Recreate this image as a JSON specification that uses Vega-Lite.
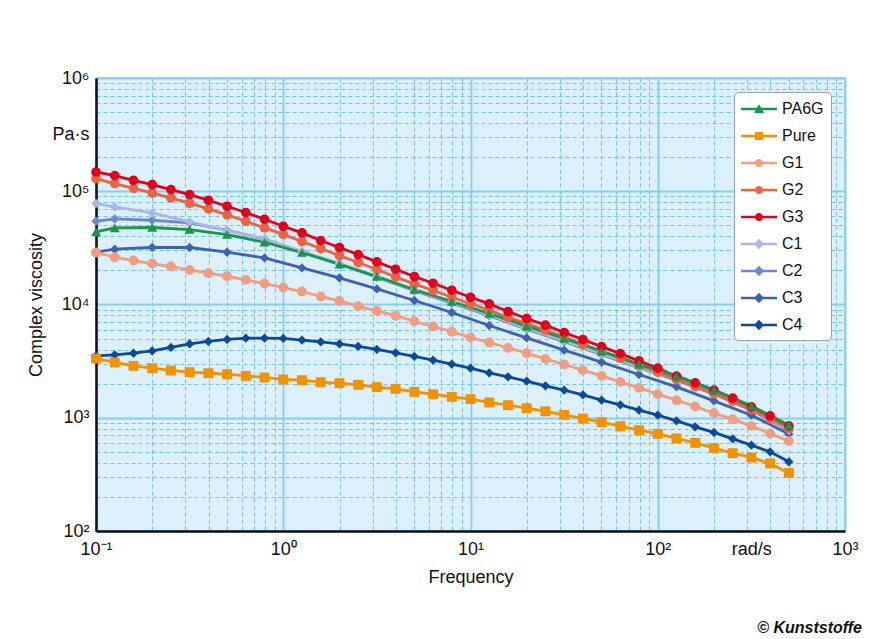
{
  "$schema": "https://vega.github.io/schema/vega-lite/v6.json",
  "width": 749,
  "height": 453,
  "autosize": {"type": "none"},
  "padding": {"left": 96, "top": 78, "right": 39, "bottom": 108},
  "background": "white",
  "config": {
    "font": "Liberation Sans Narrow, Liberation Sans, sans-serif",
    "view": {"fill": "#dcf0fc", "stroke": "#8ccff0", "strokeWidth": 1.5},
    "axis": {
      "labelFont": "Liberation Sans Narrow, Liberation Sans, sans-serif",
      "titleFont": "Liberation Sans Narrow, Liberation Sans, sans-serif",
      "labelColor": "#111111",
      "titleColor": "#111111",
      "labelFontSize": 18,
      "titleFontSize": 18,
      "titleFontWeight": "normal",
      "ticks": false,
      "domainColor": "#111111",
      "domainWidth": 2.5
    },
    "legend": {
      "labelFont": "Liberation Sans Narrow, Liberation Sans, sans-serif",
      "labelFontSize": 16,
      "labelColor": "#111111",
      "orient": "top-right",
      "offset": 14,
      "padding": 7,
      "fillColor": "white",
      "strokeColor": "#9aa4ad",
      "cornerRadius": 4,
      "symbolSize": 400,
      "symbolStrokeWidth": 0,
      "symbolOpacity": 1,
      "labelOffset": 21,
      "rowPadding": 9
    }
  },
  "title": {
    "text": "© Kunststoffe",
    "orient": "bottom",
    "anchor": "end",
    "frame": "group",
    "font": "Liberation Sans Narrow, Liberation Sans, sans-serif",
    "fontSize": 16,
    "fontStyle": "italic",
    "fontWeight": "bold",
    "color": "#111111",
    "offset": 34,
    "dx": 17
  },
  "data": {
    "values": [
      {"series": "C4", "freq": 0.1, "visc": 3519},
      {"series": "C4", "freq": 0.1259, "visc": 3591},
      {"series": "C4", "freq": 0.1585, "visc": 3717},
      {"series": "C4", "freq": 0.1995, "visc": 3895},
      {"series": "C4", "freq": 0.2512, "visc": 4174},
      {"series": "C4", "freq": 0.3162, "visc": 4490},
      {"series": "C4", "freq": 0.3981, "visc": 4715},
      {"series": "C4", "freq": 0.5012, "visc": 4911},
      {"series": "C4", "freq": 0.631, "visc": 5042},
      {"series": "C4", "freq": 0.7943, "visc": 5042},
      {"series": "C4", "freq": 1, "visc": 5012},
      {"series": "C4", "freq": 1.259, "visc": 4840},
      {"series": "C4", "freq": 1.585, "visc": 4676},
      {"series": "C4", "freq": 1.995, "visc": 4490},
      {"series": "C4", "freq": 2.512, "visc": 4259},
      {"series": "C4", "freq": 3.162, "visc": 4008},
      {"series": "C4", "freq": 3.981, "visc": 3740},
      {"series": "C4", "freq": 5.012, "visc": 3476},
      {"series": "C4", "freq": 6.31, "visc": 3225},
      {"series": "C4", "freq": 7.943, "visc": 2973},
      {"series": "C4", "freq": 10, "visc": 2740},
      {"series": "C4", "freq": 12.59, "visc": 2490},
      {"series": "C4", "freq": 15.85, "visc": 2296},
      {"series": "C4", "freq": 19.95, "visc": 2104},
      {"series": "C4", "freq": 25.12, "visc": 1912},
      {"series": "C4", "freq": 31.62, "visc": 1752},
      {"series": "C4", "freq": 39.81, "visc": 1593},
      {"series": "C4", "freq": 50.12, "visc": 1430},
      {"series": "C4", "freq": 63.1, "visc": 1300},
      {"series": "C4", "freq": 79.43, "visc": 1167},
      {"series": "C4", "freq": 100, "visc": 1054},
      {"series": "C4", "freq": 125.9, "visc": 939},
      {"series": "C4", "freq": 158.5, "visc": 831},
      {"series": "C4", "freq": 199.5, "visc": 742},
      {"series": "C4", "freq": 251.2, "visc": 651},
      {"series": "C4", "freq": 316.2, "visc": 573},
      {"series": "C4", "freq": 398.1, "visc": 500},
      {"series": "C4", "freq": 501.2, "visc": 408},

      {"series": "C3", "freq": 0.1, "visc": 28940},
      {"series": "C3", "freq": 0.1259, "visc": 30770},
      {"series": "C3", "freq": 0.1995, "visc": 31850},
      {"series": "C3", "freq": 0.3162, "visc": 31850},
      {"series": "C3", "freq": 0.5012, "visc": 28940},
      {"series": "C3", "freq": 0.7943, "visc": 25780},
      {"series": "C3", "freq": 1.259, "visc": 21040},
      {"series": "C3", "freq": 1.995, "visc": 17170},
      {"series": "C3", "freq": 3.162, "visc": 13730},
      {"series": "C3", "freq": 5.012, "visc": 10850},
      {"series": "C3", "freq": 7.943, "visc": 8500},
      {"series": "C3", "freq": 12.59, "visc": 6527},
      {"series": "C3", "freq": 19.95, "visc": 5072},
      {"series": "C3", "freq": 31.62, "visc": 3952},
      {"series": "C3", "freq": 50.12, "visc": 3096},
      {"series": "C3", "freq": 79.43, "visc": 2411},
      {"series": "C3", "freq": 125.9, "visc": 1874},
      {"series": "C3", "freq": 199.5, "visc": 1410},
      {"series": "C3", "freq": 316.2, "visc": 1054},
      {"series": "C3", "freq": 501.2, "visc": 717},

      {"series": "C2", "freq": 0.1, "visc": 54350},
      {"series": "C2", "freq": 0.1259, "visc": 56950},
      {"series": "C2", "freq": 0.1995, "visc": 55460},
      {"series": "C2", "freq": 0.3162, "visc": 52510},
      {"series": "C2", "freq": 0.5012, "visc": 45270},
      {"series": "C2", "freq": 0.7943, "visc": 37700},
      {"series": "C2", "freq": 1.259, "visc": 28940},
      {"series": "C2", "freq": 1.995, "visc": 22680},
      {"series": "C2", "freq": 3.162, "visc": 17420},
      {"series": "C2", "freq": 5.012, "visc": 13240},
      {"series": "C2", "freq": 7.943, "visc": 10270},
      {"series": "C2", "freq": 12.59, "visc": 7965},
      {"series": "C2", "freq": 19.95, "visc": 6053},
      {"series": "C2", "freq": 31.62, "visc": 4695},
      {"series": "C2", "freq": 50.12, "visc": 3605},
      {"series": "C2", "freq": 79.43, "visc": 2768},
      {"series": "C2", "freq": 125.9, "visc": 2147},
      {"series": "C2", "freq": 199.5, "visc": 1616},
      {"series": "C2", "freq": 316.2, "visc": 1167},
      {"series": "C2", "freq": 501.2, "visc": 769},

      {"series": "C1", "freq": 0.1, "visc": 77890},
      {"series": "C1", "freq": 0.1259, "visc": 72680},
      {"series": "C1", "freq": 0.1995, "visc": 64330},
      {"series": "C1", "freq": 0.3162, "visc": 53580},
      {"series": "C1", "freq": 0.5012, "visc": 44990},
      {"series": "C1", "freq": 0.7943, "visc": 37930},
      {"series": "C1", "freq": 1.259, "visc": 29540},
      {"series": "C1", "freq": 1.995, "visc": 23150},
      {"series": "C1", "freq": 3.162, "visc": 17770},
      {"series": "C1", "freq": 5.012, "visc": 13510},
      {"series": "C1", "freq": 7.943, "visc": 10480},
      {"series": "C1", "freq": 12.59, "visc": 8128},
      {"series": "C1", "freq": 19.95, "visc": 6177},
      {"series": "C1", "freq": 31.62, "visc": 4791},
      {"series": "C1", "freq": 50.12, "visc": 3679},
      {"series": "C1", "freq": 79.43, "visc": 2825},
      {"series": "C1", "freq": 125.9, "visc": 2191},
      {"series": "C1", "freq": 199.5, "visc": 1649},
      {"series": "C1", "freq": 316.2, "visc": 1191},
      {"series": "C1", "freq": 501.2, "visc": 785},

      {"series": "Pure", "freq": 0.1, "visc": 3337},
      {"series": "Pure", "freq": 0.1259, "visc": 3077},
      {"series": "Pure", "freq": 0.1585, "visc": 2872},
      {"series": "Pure", "freq": 0.1995, "visc": 2740},
      {"series": "Pure", "freq": 0.2512, "visc": 2615},
      {"series": "Pure", "freq": 0.3162, "visc": 2526},
      {"series": "Pure", "freq": 0.3981, "visc": 2475},
      {"series": "Pure", "freq": 0.5012, "visc": 2425},
      {"series": "Pure", "freq": 0.631, "visc": 2343},
      {"series": "Pure", "freq": 0.7943, "visc": 2268},
      {"series": "Pure", "freq": 1, "visc": 2178},
      {"series": "Pure", "freq": 1.259, "visc": 2147},
      {"series": "Pure", "freq": 1.585, "visc": 2062},
      {"series": "Pure", "freq": 1.995, "visc": 2021},
      {"series": "Pure", "freq": 2.512, "visc": 1952},
      {"series": "Pure", "freq": 3.162, "visc": 1863},
      {"series": "Pure", "freq": 3.981, "visc": 1800},
      {"series": "Pure", "freq": 5.012, "visc": 1693},
      {"series": "Pure", "freq": 6.31, "visc": 1616},
      {"series": "Pure", "freq": 7.943, "visc": 1529},
      {"series": "Pure", "freq": 10, "visc": 1460},
      {"series": "Pure", "freq": 12.59, "visc": 1365},
      {"series": "Pure", "freq": 15.85, "visc": 1292},
      {"series": "Pure", "freq": 19.95, "visc": 1215},
      {"series": "Pure", "freq": 25.12, "visc": 1140},
      {"series": "Pure", "freq": 31.62, "visc": 1060},
      {"series": "Pure", "freq": 39.81, "visc": 985},
      {"series": "Pure", "freq": 50.12, "visc": 915},
      {"series": "Pure", "freq": 63.1, "visc": 843},
      {"series": "Pure", "freq": 79.43, "visc": 777},
      {"series": "Pure", "freq": 100, "visc": 721},
      {"series": "Pure", "freq": 125.9, "visc": 657},
      {"series": "Pure", "freq": 158.5, "visc": 600},
      {"series": "Pure", "freq": 199.5, "visc": 539},
      {"series": "Pure", "freq": 251.2, "visc": 487},
      {"series": "Pure", "freq": 316.2, "visc": 446},
      {"series": "Pure", "freq": 398.1, "visc": 395},
      {"series": "Pure", "freq": 501.2, "visc": 326},

      {"series": "G1", "freq": 0.1, "visc": 28770},
      {"series": "G1", "freq": 0.1259, "visc": 26150},
      {"series": "G1", "freq": 0.1585, "visc": 24460},
      {"series": "G1", "freq": 0.1995, "visc": 23010},
      {"series": "G1", "freq": 0.2512, "visc": 21650},
      {"series": "G1", "freq": 0.3162, "visc": 20200},
      {"series": "G1", "freq": 0.3981, "visc": 18890},
      {"series": "G1", "freq": 0.5012, "visc": 17770},
      {"series": "G1", "freq": 0.631, "visc": 16490},
      {"series": "G1", "freq": 0.7943, "visc": 15320},
      {"series": "G1", "freq": 1, "visc": 14130},
      {"series": "G1", "freq": 1.259, "visc": 13020},
      {"series": "G1", "freq": 1.585, "visc": 11770},
      {"series": "G1", "freq": 1.995, "visc": 10760},
      {"series": "G1", "freq": 2.512, "visc": 9660},
      {"series": "G1", "freq": 3.162, "visc": 8780},
      {"series": "G1", "freq": 3.981, "visc": 7965},
      {"series": "G1", "freq": 5.012, "visc": 7121},
      {"series": "G1", "freq": 6.31, "visc": 6393},
      {"series": "G1", "freq": 7.943, "visc": 5754},
      {"series": "G1", "freq": 10, "visc": 5123},
      {"series": "G1", "freq": 12.59, "visc": 4619},
      {"series": "G1", "freq": 15.85, "visc": 4140},
      {"series": "G1", "freq": 19.95, "visc": 3717},
      {"series": "G1", "freq": 25.12, "visc": 3311},
      {"series": "G1", "freq": 31.62, "visc": 2955},
      {"series": "G1", "freq": 39.81, "visc": 2632},
      {"series": "G1", "freq": 50.12, "visc": 2343},
      {"series": "G1", "freq": 63.1, "visc": 2075},
      {"series": "G1", "freq": 79.43, "visc": 1836},
      {"series": "G1", "freq": 100, "visc": 1616},
      {"series": "G1", "freq": 125.9, "visc": 1430},
      {"series": "G1", "freq": 158.5, "visc": 1258},
      {"series": "G1", "freq": 199.5, "visc": 1098},
      {"series": "G1", "freq": 251.2, "visc": 972},
      {"series": "G1", "freq": 316.2, "visc": 843},
      {"series": "G1", "freq": 398.1, "visc": 727},
      {"series": "G1", "freq": 501.2, "visc": 622},

      {"series": "G2", "freq": 0.1, "visc": 129500},
      {"series": "G2", "freq": 0.1259, "visc": 116900},
      {"series": "G2", "freq": 0.1585, "visc": 106300},
      {"series": "G2", "freq": 0.1995, "visc": 96600},
      {"series": "G2", "freq": 0.2512, "visc": 87300},
      {"series": "G2", "freq": 0.3162, "visc": 78400},
      {"series": "G2", "freq": 0.3981, "visc": 69800},
      {"series": "G2", "freq": 0.5012, "visc": 61780},
      {"series": "G2", "freq": 0.631, "visc": 54350},
      {"series": "G2", "freq": 0.7943, "visc": 47450},
      {"series": "G2", "freq": 1, "visc": 41560},
      {"series": "G2", "freq": 1.259, "visc": 35980},
      {"series": "G2", "freq": 1.585, "visc": 31210},
      {"series": "G2", "freq": 1.995, "visc": 27070},
      {"series": "G2", "freq": 2.512, "visc": 23480},
      {"series": "G2", "freq": 3.162, "visc": 20360},
      {"series": "G2", "freq": 3.981, "visc": 17520},
      {"series": "G2", "freq": 5.012, "visc": 15200},
      {"series": "G2", "freq": 6.31, "visc": 13290},
      {"series": "G2", "freq": 7.943, "visc": 11600},
      {"series": "G2", "freq": 10, "visc": 10160},
      {"series": "G2", "freq": 12.59, "visc": 8906},
      {"series": "G2", "freq": 15.85, "visc": 7724},
      {"series": "G2", "freq": 19.95, "visc": 6770},
      {"series": "G2", "freq": 25.12, "visc": 5933},
      {"series": "G2", "freq": 31.62, "visc": 5145},
      {"series": "G2", "freq": 39.81, "visc": 4462},
      {"series": "G2", "freq": 50.12, "visc": 3870},
      {"series": "G2", "freq": 63.1, "visc": 3358},
      {"series": "G2", "freq": 79.43, "visc": 2912},
      {"series": "G2", "freq": 100, "visc": 2526},
      {"series": "G2", "freq": 125.9, "visc": 2169},
      {"series": "G2", "freq": 158.5, "visc": 1882},
      {"series": "G2", "freq": 199.5, "visc": 1632},
      {"series": "G2", "freq": 251.2, "visc": 1401},
      {"series": "G2", "freq": 316.2, "visc": 1179},
      {"series": "G2", "freq": 398.1, "visc": 982},
      {"series": "G2", "freq": 501.2, "visc": 809},

      {"series": "G3", "freq": 0.1, "visc": 148000},
      {"series": "G3", "freq": 0.1259, "visc": 137600},
      {"series": "G3", "freq": 0.1585, "visc": 125000},
      {"series": "G3", "freq": 0.1995, "visc": 114600},
      {"series": "G3", "freq": 0.2512, "visc": 103500},
      {"series": "G3", "freq": 0.3162, "visc": 93500},
      {"series": "G3", "freq": 0.3981, "visc": 83300},
      {"series": "G3", "freq": 0.5012, "visc": 73700},
      {"series": "G3", "freq": 0.631, "visc": 64900},
      {"series": "G3", "freq": 0.7943, "visc": 56600},
      {"series": "G3", "freq": 1, "visc": 49100},
      {"series": "G3", "freq": 1.259, "visc": 42900},
      {"series": "G3", "freq": 1.585, "visc": 36700},
      {"series": "G3", "freq": 1.995, "visc": 31850},
      {"series": "G3", "freq": 2.512, "visc": 27620},
      {"series": "G3", "freq": 3.162, "visc": 23770},
      {"series": "G3", "freq": 3.981, "visc": 20490},
      {"series": "G3", "freq": 5.012, "visc": 17670},
      {"series": "G3", "freq": 6.31, "visc": 15420},
      {"series": "G3", "freq": 7.943, "visc": 13370},
      {"series": "G3", "freq": 10, "visc": 11600},
      {"series": "G3", "freq": 12.59, "visc": 10120},
      {"series": "G3", "freq": 15.85, "visc": 8675},
      {"series": "G3", "freq": 19.95, "visc": 7523},
      {"series": "G3", "freq": 25.12, "visc": 6567},
      {"series": "G3", "freq": 31.62, "visc": 5661},
      {"series": "G3", "freq": 39.81, "visc": 4911},
      {"series": "G3", "freq": 50.12, "visc": 4242},
      {"series": "G3", "freq": 63.1, "visc": 3679},
      {"series": "G3", "freq": 79.43, "visc": 3179},
      {"series": "G3", "freq": 100, "visc": 2740},
      {"series": "G3", "freq": 125.9, "visc": 2329},
      {"series": "G3", "freq": 158.5, "visc": 2033},
      {"series": "G3", "freq": 199.5, "visc": 1752},
      {"series": "G3", "freq": 251.2, "visc": 1489},
      {"series": "G3", "freq": 316.2, "visc": 1248},
      {"series": "G3", "freq": 398.1, "visc": 1039},
      {"series": "G3", "freq": 501.2, "visc": 848},

      {"series": "PA6G", "freq": 0.1, "visc": 43720},
      {"series": "PA6G", "freq": 0.1259, "visc": 47450},
      {"series": "PA6G", "freq": 0.1995, "visc": 47830},
      {"series": "PA6G", "freq": 0.3162, "visc": 45920},
      {"series": "PA6G", "freq": 0.5012, "visc": 41480},
      {"series": "PA6G", "freq": 0.7943, "visc": 35460},
      {"series": "PA6G", "freq": 1.259, "visc": 28770},
      {"series": "PA6G", "freq": 1.995, "visc": 22680},
      {"series": "PA6G", "freq": 3.162, "visc": 17670},
      {"series": "PA6G", "freq": 5.012, "visc": 13560},
      {"series": "PA6G", "freq": 7.943, "visc": 10630},
      {"series": "PA6G", "freq": 12.59, "visc": 8330},
      {"series": "PA6G", "freq": 19.95, "visc": 6433},
      {"series": "PA6G", "freq": 31.62, "visc": 5012},
      {"series": "PA6G", "freq": 50.12, "visc": 3870},
      {"series": "PA6G", "freq": 79.43, "visc": 2973},
      {"series": "PA6G", "freq": 125.9, "visc": 2329},
      {"series": "PA6G", "freq": 199.5, "visc": 1752},
      {"series": "PA6G", "freq": 316.2, "visc": 1274},
      {"series": "PA6G", "freq": 501.2, "visc": 860}
    ]
  },
  "encoding": {
    "x": {
      "field": "freq",
      "type": "quantitative",
      "title": "Frequency",
      "scale": {"type": "log", "domain": [0.1, 1000], "nice": false},
      "axis": {
        "values": [0.1, 0.2, 0.3, 0.4, 0.5, 0.6, 0.7, 0.8, 0.9, 1, 2, 3, 4, 5, 6, 7, 8, 9, 10, 20, 30, 40, 50, 60, 70, 80, 90, 100, 200, 300, 400, 500, 600, 700, 800, 900, 1000, 316.2],
        "labelExpr": "datum.value == 0.1 ? '10⁻¹' : datum.value == 1 ? '10⁰' : datum.value == 10 ? '10¹' : datum.value == 100 ? '10²' : datum.value == 1000 ? '10³' : datum.value == 316.2 ? 'rad/s' : ''",
        "labelOverlap": false,
        "labelFlush": false,
        "labelPadding": 9,
        "titlePadding": 10,
        "grid": true,
        "gridColor": {"condition": {"test": "indexof([0.1, 1, 10, 100, 1000], datum.value) >= 0", "value": "#86cdf0"}, "value": "#6fc3ef"},
        "gridDash": {"condition": {"test": "indexof([0.1, 1, 10, 100, 1000], datum.value) >= 0", "value": []}, "value": [4, 3]},
        "gridWidth": {"condition": {"test": "indexof([0.1, 1, 10, 100, 1000], datum.value) >= 0", "value": 1.8}, "value": 1},
        "gridOpacity": {"condition": {"test": "datum.value == 316.2", "value": 0}, "value": 1}
      }
    },
    "y": {
      "field": "visc",
      "type": "quantitative",
      "title": "Complex viscosity",
      "scale": {"type": "log", "domain": [100, 1000000], "nice": false},
      "axis": {
        "values": [100, 200, 300, 400, 500, 600, 700, 800, 900, 1000, 2000, 3000, 4000, 5000, 6000, 7000, 8000, 9000, 10000, 20000, 30000, 40000, 50000, 60000, 70000, 80000, 90000, 100000, 200000, 300000, 400000, 500000, 600000, 700000, 800000, 900000, 1000000, 316228],
        "labelExpr": "datum.value == 100 ? '10²' : datum.value == 1000 ? '10³' : datum.value == 10000 ? '10⁴' : datum.value == 100000 ? '10⁵' : datum.value == 1000000 ? '10⁶' : datum.value == 316228 ? 'Pa·s' : ''",
        "labelOverlap": false,
        "labelFlush": false,
        "labelPadding": 7,
        "titlePadding": 6,
        "grid": true,
        "gridColor": {"condition": {"test": "indexof([100, 1000, 10000, 100000, 1000000], datum.value) >= 0", "value": "#86cdf0"}, "value": "#6fc3ef"},
        "gridDash": {"condition": {"test": "indexof([100, 1000, 10000, 100000, 1000000], datum.value) >= 0", "value": []}, "value": [4, 3]},
        "gridWidth": {"condition": {"test": "indexof([100, 1000, 10000, 100000, 1000000], datum.value) >= 0", "value": 1.8}, "value": 1},
        "gridOpacity": {"condition": {"test": "datum.value == 316228", "value": 0}, "value": 1}
      }
    }
  },
  "resolve": {"scale": {"color": "independent", "shape": "independent", "size": "independent"}},
  "layer": [
    {
      "mark": {"type": "line", "strokeWidth": 2.8},
      "encoding": {
        "color": {
          "field": "series",
          "type": "nominal",
          "scale": {
            "domain": ["PA6G", "Pure", "G1", "G2", "G3", "C1", "C2", "C3", "C4"],
            "range": ["#17974a", "#f39200", "#f29c80", "#e9643f", "#e2001a", "#aab7e0", "#7287c8", "#3f62b0", "#0b4a98"]
          },
          "legend": null
        }
      }
    },
    {
      "mark": {"type": "point", "filled": true, "opacity": 1},
      "encoding": {
        "color": {
          "field": "series",
          "type": "nominal",
          "scale": {
            "domain": ["PA6G", "Pure", "G1", "G2", "G3", "C1", "C2", "C3", "C4"],
            "range": ["#17974a", "#f39200", "#f29c80", "#e9643f", "#e2001a", "#aab7e0", "#7287c8", "#3f62b0", "#0b4a98"]
          },
          "legend": null
        },
        "shape": {
          "field": "series",
          "type": "nominal",
          "scale": {
            "domain": ["PA6G", "Pure", "G1", "G2", "G3", "C1", "C2", "C3", "C4"],
            "range": ["triangle-up", "square", "circle", "circle", "circle", "diamond", "diamond", "diamond", "diamond"]
          },
          "legend": null
        },
        "size": {
          "field": "series",
          "type": "ordinal",
          "scale": {
            "domain": ["PA6G", "Pure", "G1", "G2", "G3", "C1", "C2", "C3", "C4"],
            "range": [100, 85, 72, 72, 72, 100, 100, 100, 100]
          },
          "legend": null
        }
      }
    },
    {
      "mark": {"type": "point", "filled": true, "opacity": 0},
      "encoding": {
        "color": {
          "field": "series",
          "type": "nominal",
          "scale": {
            "domain": ["PA6G", "Pure", "G1", "G2", "G3", "C1", "C2", "C3", "C4"],
            "range": ["#17974a", "#f39200", "#f29c80", "#e9643f", "#e2001a", "#aab7e0", "#7287c8", "#3f62b0", "#0b4a98"]
          },
          "legend": {"title": null}
        },
        "shape": {
          "field": "series",
          "type": "nominal",
          "scale": {
            "domain": ["PA6G", "Pure", "G1", "G2", "G3", "C1", "C2", "C3", "C4"],
            "range": [
              "M-1,-0.13L2.6,-0.13L2.6,0.13L-1,0.13ZM0.3,0.4L0.8,-0.48L1.3,0.4Z",
              "M-1,-0.13L2.6,-0.13L2.6,0.13L-1,0.13ZM0.4,-0.4L1.2,-0.4L1.2,0.4L0.4,0.4Z",
              "M-1,-0.13L2.6,-0.13L2.6,0.13L-1,0.13ZM0.4,0A0.4,0.4,0,1,1,1.2,0A0.4,0.4,0,1,1,0.4,0Z",
              "M-1,-0.13L2.6,-0.13L2.6,0.13L-1,0.13ZM0.4,0A0.4,0.4,0,1,1,1.2,0A0.4,0.4,0,1,1,0.4,0Z",
              "M-1,-0.13L2.6,-0.13L2.6,0.13L-1,0.13ZM0.4,0A0.4,0.4,0,1,1,1.2,0A0.4,0.4,0,1,1,0.4,0Z",
              "M-1,-0.13L2.6,-0.13L2.6,0.13L-1,0.13ZM0.8,-0.52L1.3,0L0.8,0.52L0.3,0Z",
              "M-1,-0.13L2.6,-0.13L2.6,0.13L-1,0.13ZM0.8,-0.52L1.3,0L0.8,0.52L0.3,0Z",
              "M-1,-0.13L2.6,-0.13L2.6,0.13L-1,0.13ZM0.8,-0.52L1.3,0L0.8,0.52L0.3,0Z",
              "M-1,-0.13L2.6,-0.13L2.6,0.13L-1,0.13ZM0.8,-0.52L1.3,0L0.8,0.52L0.3,0Z"
            ]
          },
          "legend": {"title": null}
        }
      }
    }
  ]
}
